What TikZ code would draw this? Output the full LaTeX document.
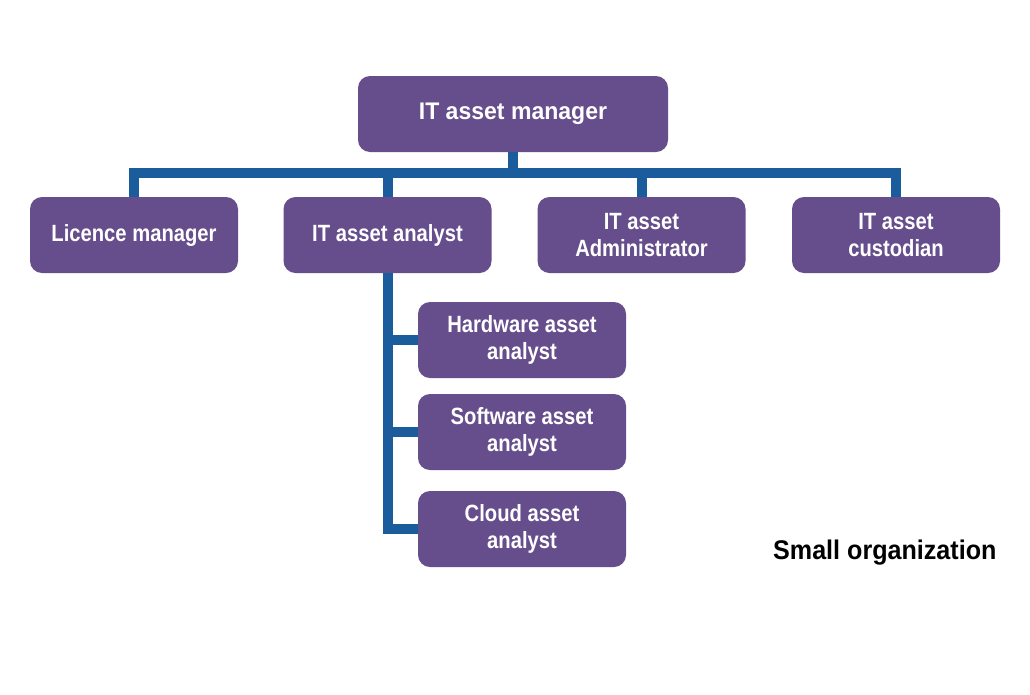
\documentclass[tikz,border=0pt]{standalone}
\usepackage{fontspec}
\setmainfont{Liberation Sans}
\newfontfamily\boxfont{Liberation Sans}[FakeStretch=0.86]
\newfontfamily\topfont{Liberation Sans}[FakeStretch=0.96]
\newfontfamily\capfont{Liberation Sans}[FakeStretch=0.93]
\definecolor{boxpurple}{RGB}{102,78,141}
\definecolor{linkblue}{RGB}{26,92,156}
\tikzset{
  rolebox/.style={rectangle, rounded corners=12pt, fill=boxpurple, text=white,
    minimum width=208pt, minimum height=76pt, inner sep=0pt, align=center,
    font=\boxfont\bfseries\fontsize{23.5pt}{27pt}\selectfont},
  topbox/.style={rolebox, minimum width=310pt,
    font=\topfont\bfseries\fontsize{24pt}{27pt}\selectfont},
  conn/.style={draw=linkblue, line width=10pt, line join=miter, line cap=rect}
}
\begin{document}
\begin{tikzpicture}[x=1pt,y=-1pt]
\useasboundingbox[fill=white] (0,0) rectangle (1030,694);
% connectors first (behind boxes)
\coordinate (bar) at (513,173);
\node[topbox] (mgr) at (513,114) {IT asset manager};
\node[rolebox] (lic) at (134,235) {Licence manager};
\node[rolebox] (ana) at (387.5,235) {IT asset analyst};
\node[rolebox] (adm) at (641.5,235) {IT asset\\Administrator};
\node[rolebox] (cus) at (896,235) {IT asset\\custodian};
\node[rolebox] (hw) at (522,340) {Hardware asset\\analyst};
\node[rolebox] (sw) at (522,432) {Software asset\\analyst};
\node[rolebox] (cl) at (522,529) {Cloud asset\\analyst};
\begin{scope}[on background layer/.try]
\end{scope}
\draw[conn, line cap=butt] (lic.north) -- (lic.north |- bar) -- (cus.north |- bar) -- (cus.north);
\draw[conn, line cap=butt] (mgr.south) -- (mgr.south |- bar);
\draw[conn, line cap=butt] (ana.north) -- (ana.north |- bar);
\draw[conn, line cap=butt] (adm.north) -- (adm.north |- bar);
\draw[conn, line cap=butt] (ana.south) -- (ana.south |- cl.west) -- (cl.west);
\draw[conn, line cap=butt] (ana.south |- hw.west) -- (hw.west);
\draw[conn, line cap=butt] (ana.south |- sw.west) -- (sw.west);
\node[anchor=base west, inner sep=0pt, text=black,
  font=\capfont\bfseries\fontsize{27pt}{30pt}\selectfont] (cap) at (773,559) {Small organization};
\end{tikzpicture}
\end{document}
